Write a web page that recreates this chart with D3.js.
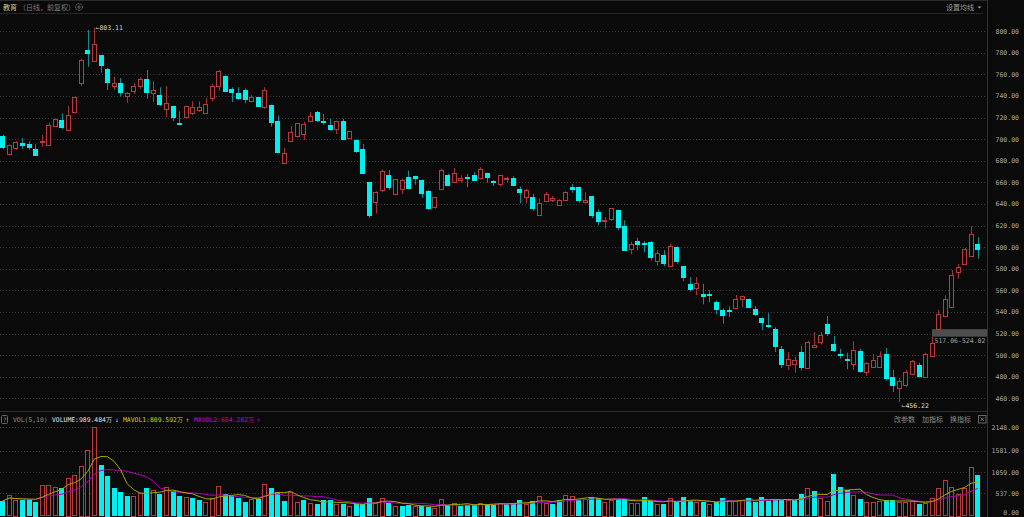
<!DOCTYPE html>
<html>
<head>
<meta charset="utf-8">
<script src="https://cdn.jsdelivr.net/npm/d3@7/dist/d3.min.js"></script>
<style>
  html, body { margin: 0; padding: 0; background: #0a0a0a; }
  svg { display: block; }
</style>
</head>
<body>
<div id="chart"></div>
<script>
// daily candles, oldest first
const opens = [702.9,685.6,691.8,696.7,695.5,691.1,697.5,694.3,711.5,717.7,707.8,725.1,751.7,782.5,772.6,777.6,765.2,749.8,752.2,739.9,
  744.3,748.5,755.9,742.4,741.1,727.6,730.6,715.2,720.7,724.4,726.3,724.4,738.1,749.2,758.4,746.1,742.4,745.5,735.6,738.7,
  730.0,731.6,717.0,678.1,698.0,702.2,704.7,717.0,725.4,716.5,713.3,709.1,717.0,700.4,699.2,690.6,660.3,641.8,652.2,667.0,
  648.5,654.1,665.2,665.8,662.1,652.2,636.9,653.5,667.0,660.3,662.1,664.6,667.0,663.3,668.3,661.5,657.8,662.8,664.0,653.5,
  646.1,646.7,630.0,642.4,643.6,638.7,643.6,655.9,655.9,642.4,647.3,632.5,624.2,625.4,634.1,619.3,598.2,605.6,603.5,604.4,
  587.1,592.7,582.8,600.1,582.2,566.1,562.4,556.3,556.9,548.9,541.5,541.5,543.9,552.0,552.0,542.7,534.1,527.6,524.4,505.9,
  490.6,492.4,502.9,488.0,507.2,512.8,528.8,510.3,501.0,496.7,491.8,503.5,485.0,489.3,489.3,501.0,479.4,468.9,472.0,482.5,
  490.6,479.4,499.2,524.1,536.2,544.2,576.3,584.4,591.8,602.9];
const highs = [704.0,695.0,698.0,701.0,698.0,695.5,704.0,715.2,719.0,723.9,730.6,740.0,774.4,801.0,803.11,778.0,766.0,757.8,756.6,743.6,
  751.7,757.2,764.0,753.5,748.0,749.2,731.0,725.7,731.0,735.0,735.0,738.0,751.0,764.0,759.0,748.0,748.0,747.0,741.0,739.0,
  748.0,732.0,722.0,691.8,712.1,715.0,715.8,725.1,726.0,723.2,718.9,717.0,718.9,707.5,699.8,695.5,660.5,651.7,672.0,671.4,
  663.0,663.5,670.7,666.0,662.5,653.0,646.5,672.6,668.0,673.2,666.5,667.7,669.5,673.9,669.0,662.0,667.0,665.2,665.8,656.0,
  654.1,649.2,644.8,651.0,647.3,644.2,651.6,658.4,656.0,651.0,647.5,635.0,627.9,636.0,634.5,624.8,605.0,608.7,605.6,605.6,
  597.0,597.0,603.1,600.5,582.5,572.3,572.3,566.1,560.0,550.7,543.3,545.2,555.6,554.6,552.5,545.2,534.5,538.7,525.7,508.4,
  502.9,498.5,508.4,513.0,521.4,521.4,536.2,517.7,505.9,502.2,512.8,505.9,493.5,501.0,503.5,506.6,486.2,478.8,486.2,495.4,
  493.0,502.2,517.06,541.8,555.4,578.8,584.4,599.2,619.6,609.1];
const lows = [690.5,685.0,690.0,691.0,690.0,685.0,693.0,694.0,711.0,709.0,707.5,725.0,749.2,767.0,772.0,761.5,745.5,745.5,739.3,733.7,
  741.8,746.7,737.4,734.4,730.6,720.2,717.0,712.8,718.9,722.0,725.1,723.2,735.0,744.8,743.6,734.4,736.2,733.1,734.0,730.0,
  728.1,711.5,688.0,677.6,697.3,701.7,699.2,717.0,715.8,713.3,707.8,704.7,699.8,699.8,687.4,667.7,627.0,631.3,651.0,652.9,
  648.0,649.2,654.1,657.8,645.5,634.4,635.6,652.9,657.0,660.0,659.6,655.4,662.1,662.8,659.6,656.6,656.0,659.6,657.2,640.6,
  640.6,633.7,630.0,641.8,641.8,638.1,643.0,650.4,641.1,640.6,627.0,620.2,617.4,624.2,615.6,596.4,593.3,597.0,595.2,587.8,
  582.8,582.2,582.2,584.6,568.6,558.7,555.6,547.0,548.9,537.8,529.1,535.3,543.3,544.5,543.3,536.5,523.2,525.0,502.9,488.0,
  486.2,483.7,485.6,487.5,507.0,509.6,517.7,502.9,496.7,486.9,486.2,483.7,480.7,488.0,488.5,476.3,465.8,456.22,470.7,481.9,
  479.4,479.4,498.6,524.02,535.6,543.6,570.7,583.7,591.1,589.3];
const closes = [692.4,694.3,697.3,694.8,693.0,685.6,698.5,712.8,718.3,710.9,722.0,739.3,773.2,780.0,788.0,768.3,752.9,752.2,744.3,742.4,
  749.2,755.4,743.6,745.5,732.5,733.0,720.7,714.0,730.6,730.0,729.4,732.5,749.2,762.8,744.8,743.0,738.1,737.4,739.3,730.6,
  745.5,715.8,688.7,686.9,706.6,714.6,714.0,721.4,717.7,715.2,709.6,716.5,700.4,707.2,689.3,668.3,630.0,651.0,670.2,655.9,
  662.8,662.3,655.4,664.3,649.8,636.2,646.1,671.4,657.8,668.9,664.0,663.3,662.8,672.0,664.6,660.6,666.5,664.0,657.8,650.4,
  652.9,636.2,641.1,649.2,645.5,643.6,651.0,654.1,643.6,644.0,629.4,624.5,625.4,635.9,618.0,597.0,602.6,603.1,602.6,590.8,
  594.5,585.3,601.3,587.1,572.3,561.9,566.8,554.7,555.7,542.1,536.5,540.2,552.0,554.4,544.5,537.8,530.4,526.3,508.4,492.4,
  496.1,495.8,489.3,512.1,509.1,518.9,520.8,504.7,499.8,495.5,504.7,485.0,493.0,495.5,499.2,478.8,472.0,475.7,484.4,494.8,
  480.0,501.0,510.9,538.0,552.2,573.9,581.3,598.5,612.1,598.0];
// volume, 万
const volumes = [349,495,381,381,366,332,740,740,690,658,918,984,1211,1602,2148,1228,967,658,561,463,
  479,544,658,609,528,690,593,479,447,414,366,317,430,707,512,463,414,332,398,398,
  756,674,577,349,561,317,366,300,268,366,366,268,268,235,268,284,414,300,430,300,
  219,235,251,235,219,203,171,398,251,300,219,251,260,300,280,260,300,280,300,366,
  284,349,463,300,284,382,496,463,366,398,447,414,333,382,382,398,300,300,447,349,
  268,284,414,333,447,349,317,333,284,317,414,366,349,366,414,333,447,349,398,366,
  382,366,512,658,593,430,349,1000,690,610,496,398,333,333,349,366,366,333,333,349,
  268,300,420,658,854,700,530,658,1172,989.5];

const priceTicks = [460,480,500,520,540,560,580,600,620,640,660,680,700,720,740,760,780,800];
const volTicks = [0,537,1059,1581,2148];
const highMark = 803.11, lowMark = 456.22;
const gapLow = 517.06, gapHigh = 524.02;

const W = 1024, H = 517;
const bg = '#0a0a0a', red = '#b83c3c', redWick = '#a53636', cyan = '#00f0f0', cyanWick = '#138c8e';
const grid = '#383838', axisText = '#a8a8a8';
const mono = '"DejaVu Sans Mono", monospace';
const cjk = '"Noto Sans CJK SC", sans-serif';
const plotRight = 987;

const n = closes.length;
const x = d3.scaleBand().domain(d3.range(n)).range([-0.57, 981.0])
  .paddingInner(0.3).paddingOuter(0.15);
const cx = i => Math.round(x(i) + x.bandwidth() / 2) + 0.5;
const y = d3.scaleLinear().domain([460, 800]).range([398.3, 31.1]);
const yv = d3.scaleLinear().domain([0, 2148]).range([515.3, 427.3]);

const svg = d3.select('#chart').append('svg')
  .attr('width', W).attr('height', H)
  .style('background', bg);

// frame lines
svg.append('line').attr('x1', 0).attr('x2', plotRight).attr('y1', 0.5).attr('y2', 0.5).attr('stroke', '#2a2a2a');
svg.append('line').attr('x1', 0).attr('x2', 983).attr('y1', 13.5).attr('y2', 13.5).attr('stroke', '#262626');
svg.append('line').attr('x1', 0).attr('x2', plotRight).attr('y1', 411.5).attr('y2', 411.5).attr('stroke', '#2e2e2e');
svg.append('line').attr('x1', plotRight + 0.5).attr('x2', plotRight + 0.5).attr('y1', 0).attr('y2', H).attr('stroke', '#333');

// header
svg.append('text').attr('x', 3).attr('y', 10).attr('fill', '#d9cc8c')
  .style('font', `7px ${cjk}`).text('教育');
svg.append('text').attr('x', 19).attr('y', 10).attr('fill', '#7d7d7d')
  .style('font', `7px ${cjk}`).text('（日线，前复权）');
const gear = svg.append('g').attr('transform', 'translate(79,7)');
gear.append('circle').attr('r', 3.4).attr('fill', 'none').attr('stroke', '#777').attr('stroke-width', 0.9).attr('stroke-dasharray', '1.2,0.6');
gear.append('circle').attr('r', 1.2).attr('fill', 'none').attr('stroke', '#777').attr('stroke-width', 0.8);
svg.append('text').attr('x', 946).attr('y', 10).attr('fill', '#9a9a9a')
  .style('font', `7px ${cjk}`).text('设置均线');
svg.append('path').attr('d', 'M977.5,6.5 L981.5,6.5 L979.5,8.5 Z').attr('fill', '#9a9a9a');

// price grid + axis
svg.append('g').selectAll('line').data(priceTicks).join('line')
  .attr('x1', 0).attr('x2', plotRight)
  .attr('y1', d => Math.round(y(d)) + 0.5).attr('y2', d => Math.round(y(d)) + 0.5)
  .attr('stroke', grid).attr('stroke-dasharray', '1,2');

const pAxis = svg.append('g').attr('transform', `translate(${plotRight},0)`)
  .call(d3.axisRight(y).tickValues(priceTicks).tickFormat(d3.format('.2f')).tickSize(0));
pAxis.select('.domain').remove();
pAxis.selectAll('text').attr('x', 32).attr('text-anchor', 'end')
  .attr('fill', axisText).style('font', `6.5px ${mono}`);

// gap band
svg.append('rect').attr('x', cx(142) - 0.5).attr('width', plotRight - cx(142) + 0.5)
  .attr('y', y(gapHigh)).attr('height', y(gapLow) - y(gapHigh)).attr('fill', '#4e4e4e');
svg.append('text').attr('x', cx(142) + 2).attr('y', y(gapLow) + 6.5).attr('fill', '#a0a0a0')
  .style('font', `6.5px ${mono}`).text(`${gapLow.toFixed(2)}-${gapHigh.toFixed(2)}`);

// candles
const candles = svg.append('g').selectAll('g').data(d3.range(n)).join('g');
candles.append('line')
  .attr('x1', i => cx(i)).attr('x2', i => cx(i))
  .attr('y1', i => y(highs[i])).attr('y2', i => y(lows[i]))
  .attr('stroke', i => closes[i] >= opens[i] ? redWick : cyanWick);
candles.append('rect')
  .attr('shape-rendering', 'crispEdges')
  .attr('x', i => Math.round(x(i)) + 0.5)
  .attr('width', Math.round(x.bandwidth()) - 1)
  .attr('y', i => Math.round(y(Math.max(opens[i], closes[i]))) + 0.5)
  .attr('height', i => Math.max(1, Math.round(Math.abs(y(opens[i]) - y(closes[i])))))
  .attr('fill', i => closes[i] >= opens[i] ? bg : cyan)
  .attr('stroke', i => closes[i] >= opens[i] ? red : cyan)
  .attr('stroke-width', 1);

// high / low markers
const iHigh = highs.indexOf(highMark), iLow = lows.indexOf(lowMark);
svg.append('text').attr('x', cx(iHigh) + 1).attr('y', y(highMark) + 2.5).attr('fill', '#d8d8d8')
  .style('font', `6.5px ${mono}`).text('←' + highMark.toFixed(2));
svg.append('text').attr('x', cx(iLow) + 2).attr('y', y(lowMark) + 6).attr('fill', '#d8d8d8')
  .style('font', `6.5px ${mono}`).text('←' + lowMark.toFixed(2));

// volume pane
svg.append('g').selectAll('line').data(volTicks.slice(1)).join('line')
  .attr('x1', 0).attr('x2', plotRight)
  .attr('y1', d => Math.round(yv(d)) + 0.5).attr('y2', d => Math.round(yv(d)) + 0.5)
  .attr('stroke', grid).attr('stroke-dasharray', '1,2');

const vAxis = svg.append('g').attr('transform', `translate(${plotRight},0)`)
  .call(d3.axisRight(yv).tickValues(volTicks).tickFormat(d3.format('.2f')).tickSize(0));
vAxis.select('.domain').remove();
vAxis.selectAll('text').attr('x', 32).attr('text-anchor', 'end')
  .attr('fill', axisText).style('font', `6.5px ${mono}`);
vAxis.selectAll('.tick').filter(d => d === 0).select('text').attr('dy', '-0.15em');

const volUp = i => i === 0 ? closes[0] >= opens[0] : closes[i] >= closes[i - 1];
svg.append('g').selectAll('rect').data(d3.range(n)).join('rect')
  .attr('shape-rendering', 'crispEdges')
  .attr('x', i => Math.round(x(i)) + 0.5)
  .attr('width', Math.round(x.bandwidth()) - 1)
  .attr('y', i => Math.round(yv(volumes[i])) + 0.5)
  .attr('height', i => Math.max(1, Math.round(yv(0) - yv(volumes[i]))))
  .attr('fill', i => volUp(i) ? bg : cyan)
  .attr('stroke', i => volUp(i) ? red : cyan);

// moving averages of volume (5, 10)
const ma = k => volumes.map((v, i) => d3.mean(volumes.slice(Math.max(0, i - k + 1), i + 1)));
const ma5 = ma(5), ma10 = ma(10);
const volLine = d3.line().x((d, i) => x(i) + x.bandwidth() / 2).y(d => yv(d));
svg.append('path').datum(ma10).attr('d', volLine).attr('fill', 'none').attr('stroke', '#b000b8').attr('stroke-width', 1);
svg.append('path').datum(ma5).attr('d', volLine).attr('fill', 'none').attr('stroke', '#a8a800').attr('stroke-width', 1);

// volume legend
svg.append('rect').attr('x', 1.5).attr('y', 415.5).attr('width', 6).attr('height', 8)
  .attr('fill', 'none').attr('stroke', '#666').attr('rx', 1);
svg.append('text').attr('x', 3).attr('y', 422).attr('fill', '#999').style('font', `6px ${mono}`).text('?');
const legend = svg.append('text').attr('x', 13).attr('y', 422).style('font', `6.4px ${mono}`);
legend.append('tspan').attr('fill', '#8a8a8a').text('VOL(5,10) ');
legend.append('tspan').attr('x', 52).attr('fill', '#e0e0e0').text(`VOLUME:${(989.484).toFixed(3)}万`);
legend.append('tspan').attr('x', 115).attr('fill', '#c8c8c8').text('↓');
legend.append('tspan').attr('x', 123).attr('fill', '#d2d200').text(`MAVOL1:${(809.592).toFixed(3)}万`);
legend.append('tspan').attr('x', 185.5).attr('fill', '#d2d200').text('↑');
legend.append('tspan').attr('x', 194).attr('fill', '#d000d0').text(`MAVOL2:${(654.202).toFixed(3)}万`);
legend.append('tspan').attr('x', 256.5).attr('fill', '#d000d0').text('↑');

const tools = ['改参数', '加指标', '换指标'];
svg.append('g').selectAll('text').data(tools).join('text')
  .attr('x', (d, i) => 894 + i * 28).attr('y', 422).attr('fill', '#8c8c8c')
  .style('font', `7px ${cjk}`).text(d => d);
svg.append('rect').attr('x', 978.5).attr('y', 415.5).attr('width', 7.5).attr('height', 7.5)
  .attr('fill', 'none').attr('stroke', '#666');
svg.append('path').attr('d', 'M980.5,417.5 L984,421 M984,417.5 L980.5,421').attr('stroke', '#888').attr('stroke-width', 0.8);
</script>
</body>
</html>
